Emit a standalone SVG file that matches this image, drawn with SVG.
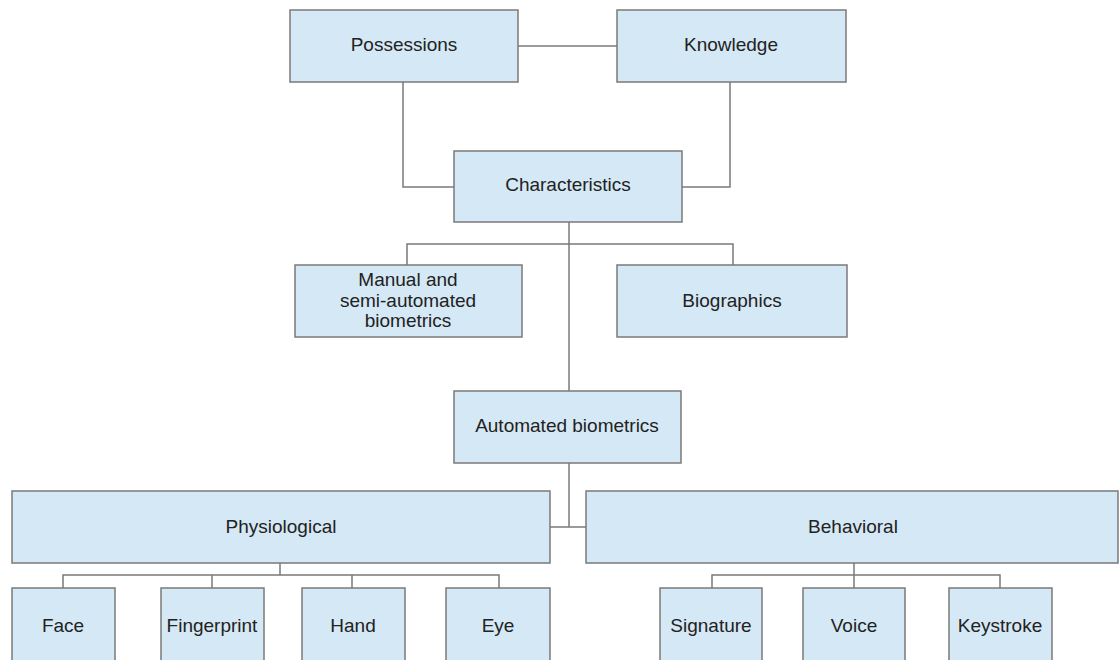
<svg xmlns="http://www.w3.org/2000/svg" width="1119" height="660" viewBox="0 0 1119 660">
<style>
.box{fill:#d5e8f5;stroke:#7a7a7a;stroke-width:1.5}
.lbl{font-family:"Liberation Sans",Arial,sans-serif;font-size:19px;fill:#222;text-anchor:middle}
.con{fill:none;stroke:#7a7a7a;stroke-width:1.5}
</style>
<rect width="1119" height="660" fill="#ffffff"/>
<g id="connectors">
<path class="con" d="M518,46 H617"/>
<path class="con" d="M403,82 V187 H454"/>
<path class="con" d="M730,82 V187 H682"/>
<path class="con" d="M569,222 V391"/>
<path class="con" d="M407,265 V244 H733 V265"/>
<path class="con" d="M569,463 V527"/>
<path class="con" d="M550,527 H586"/>
<path class="con" d="M280,563 V575"/>
<path class="con" d="M63,588 V575 H499 V588"/>
<path class="con" d="M212,575 V588"/>
<path class="con" d="M352,575 V588"/>
<path class="con" d="M854,563 V575"/>
<path class="con" d="M712,588 V575 H1000 V588"/>
<path class="con" d="M854,575 V588"/>
</g>
<g id="possessions"><rect class="box" x="290" y="10" width="228" height="72"/><text class="lbl" x="404" y="51">Possessions</text></g>
<g id="knowledge"><rect class="box" x="617" y="10" width="229" height="72"/><text class="lbl" x="731" y="51">Knowledge</text></g>
<g id="characteristics"><rect class="box" x="454" y="151" width="228" height="71"/><text class="lbl" x="568" y="191">Characteristics</text></g>
<g id="manual"><rect class="box" x="295" y="265" width="227" height="72"/><text class="lbl" x="408" y="286">Manual and</text><text class="lbl" x="408" y="307">semi-automated</text><text class="lbl" x="408" y="327">biometrics</text></g>
<g id="biographics"><rect class="box" x="617" y="265" width="230" height="72"/><text class="lbl" x="732" y="307">Biographics</text></g>
<g id="automated"><rect class="box" x="454" y="391" width="227" height="72"/><text class="lbl" x="567" y="432">Automated biometrics</text></g>
<g id="physiological"><rect class="box" x="12" y="491" width="538" height="72"/><text class="lbl" x="281" y="533">Physiological</text></g>
<g id="behavioral"><rect class="box" x="586" y="491" width="532" height="72"/><text class="lbl" x="853" y="533">Behavioral</text></g>
<g id="face"><rect class="box" x="12" y="588" width="103" height="76"/><text class="lbl" x="63" y="632">Face</text></g>
<g id="fingerprint"><rect class="box" x="161" y="588" width="103" height="76"/><text class="lbl" x="212" y="632">Fingerprint</text></g>
<g id="hand"><rect class="box" x="302" y="588" width="103" height="76"/><text class="lbl" x="353" y="632">Hand</text></g>
<g id="eye"><rect class="box" x="446" y="588" width="104" height="76"/><text class="lbl" x="498" y="632">Eye</text></g>
<g id="signature"><rect class="box" x="660" y="588" width="102" height="76"/><text class="lbl" x="711" y="632">Signature</text></g>
<g id="voice"><rect class="box" x="803" y="588" width="102" height="76"/><text class="lbl" x="854" y="632">Voice</text></g>
<g id="keystroke"><rect class="box" x="949" y="588" width="103" height="76"/><text class="lbl" x="1000" y="632">Keystroke</text></g>
</svg>
